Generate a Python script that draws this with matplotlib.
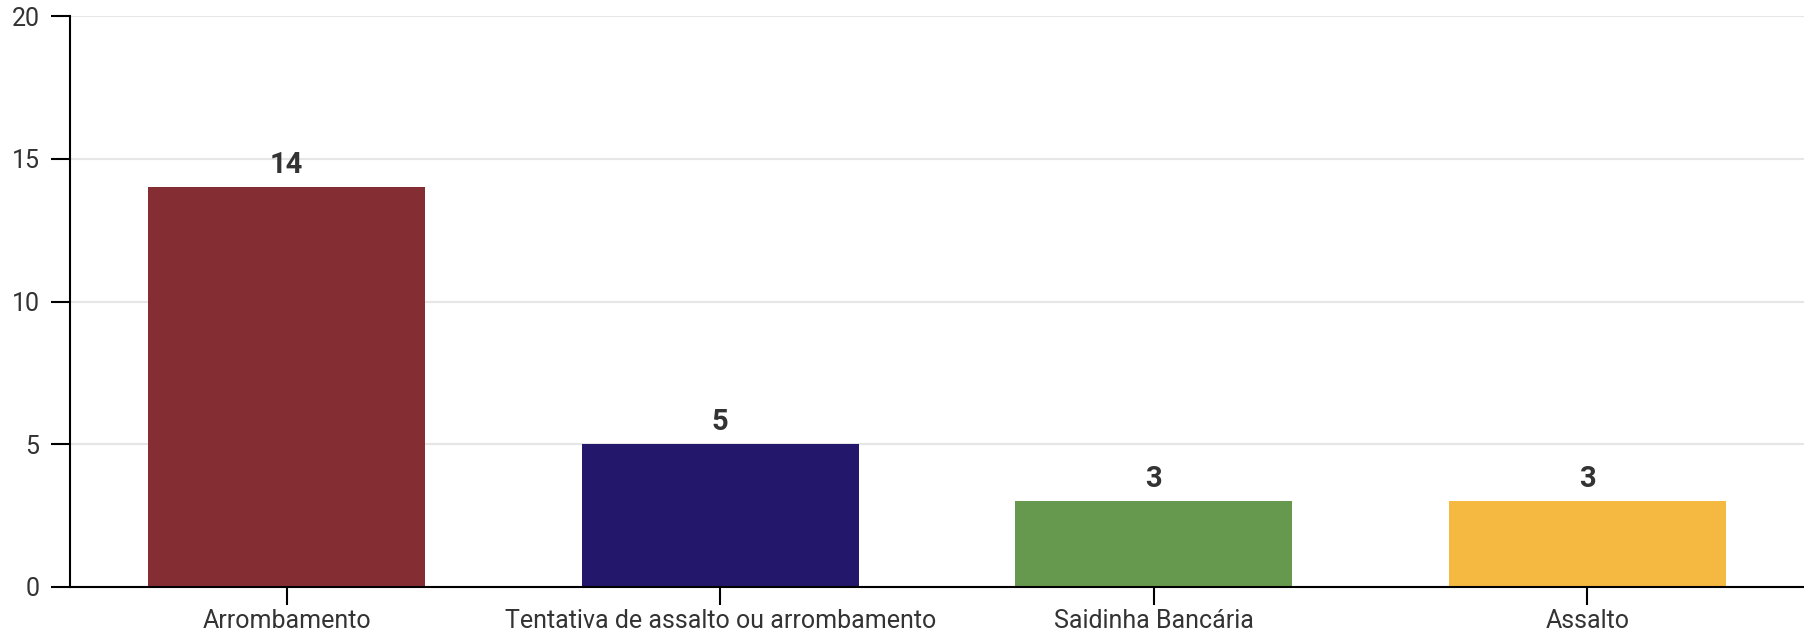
import matplotlib
matplotlib.use("Agg")
from matplotlib import pyplot as plt

categories = ["Arrombamento", "Tentativa de assalto ou arrombamento",
              "Saidinha Bancária", "Assalto"]
values = [14, 5, 3, 3]
colors = ["#842E34", "#22176B", "#66994E", "#F5B942"]
y_ticks = [0, 5, 10, 15, 20]

plt.rcParams['font.family'] = ['Roboto', 'DejaVu Sans']

fig = plt.figure(figsize=(18.04, 6.37), dpi=100)
ax = fig.add_axes([70 / 1804, 50 / 637, 1 - 70 / 1804, (587 - 16) / 637])

x = list(range(len(categories)))
bars = ax.bar(x, values, width=0.64, color=colors, zorder=3)

for xi, v in zip(x, values):
    ax.annotate(str(v), (xi, v), xytext=(0, 6), textcoords="offset points",
                ha="center", va="bottom", fontsize=21, fontweight="bold",
                color="#333333")

ax.set_xlim(-0.5, 3.5)
ax.set_ylim(0, 20)
ax.set_yticks(y_ticks)
ax.set_xticks(x)
ax.set_xticklabels(categories)

ax.grid(axis="y", color="#e6e6e6", linewidth=1.5, zorder=0)
ax.set_axisbelow(True)
for s in ["top", "right"]:
    ax.spines[s].set_visible(False)
for s in ["left", "bottom"]:
    ax.spines[s].set_linewidth(1.5)
    ax.spines[s].set_color("black")
    ax.spines[s].set_zorder(4)

ax.tick_params(axis="y", length=14, width=1.5, pad=8, labelsize=18,
               labelcolor="#333333")
ax.tick_params(axis="x", length=13, width=1.5, pad=3, labelsize=18,
               labelcolor="#333333")

fig.savefig("out.png", dpi=100)
